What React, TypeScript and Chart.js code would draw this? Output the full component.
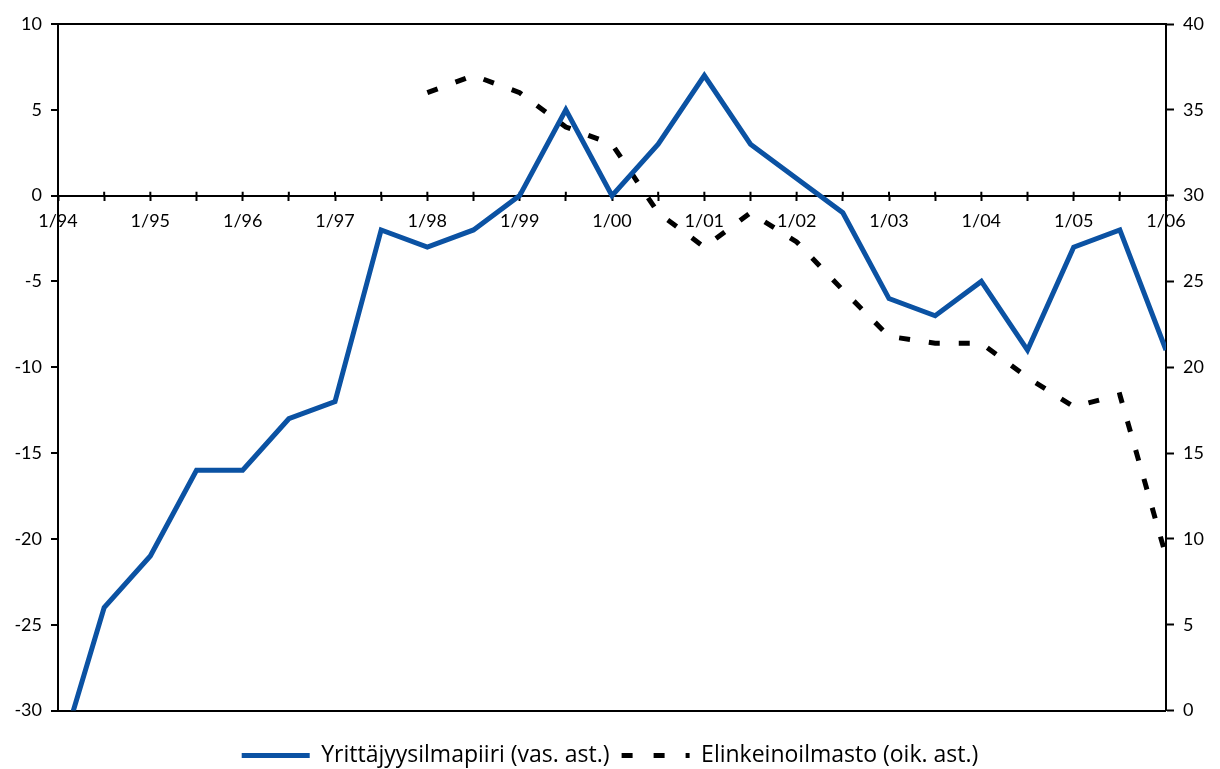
import React, { useEffect, useRef } from 'react';
import { Chart, registerables } from 'chart.js';

Chart.register(...registerables);

const categories = [
  '1/94', '7/94', '1/95', '7/95', '1/96', '7/96', '1/97', '7/97', '1/98', '7/98',
  '1/99', '7/99', '1/00', '7/00', '1/01', '7/01', '1/02', '7/02', '1/03', '7/03',
  '1/04', '7/04', '1/05', '7/05', '1/06',
];

const yrittajyysilmapiiri = [
  -33, -24, -21, -16, -16, -13, -12, -2, -3, -2,
  0, 5, 0, 3, 7, 3, 1, -1, -6, -7,
  -5, -9, -3, -2, -9,
];

const elinkeinoilmasto: (number | null)[] = [
  null, null, null, null, null, null, null, null, 36, 37,
  36, 34, 33, 29, 27, 29, 27.3, 24.5, 21.8, 21.4,
  21.4, 19.4, 17.7, 18.4, 9,
];

const leftMin = -30;
const leftMax = 10;
const rightMin = 0;
const rightMax = 40;
const tickStep = 5;

const seriesLabels = ['Yrittäjyysilmapiiri (vas. ast.)', 'Elinkeinoilmasto (oik. ast.)'];

const BLUE = '#0B52A3';
const LINE_DASH = [11, 19];
const LEGEND_DASH = [11, 21];
const TICK_FONT = { family: 'Lato, "Open Sans", sans-serif', size: 18 };
const LEGEND_FONT = { family: '"Open Sans", sans-serif', size: 23 };

const crossTicks = {
  id: 'crossTicks',
  beforeDatasetsDraw(chart: any) {
    const xs = chart.scales.x;
    const ys = chart.scales.y;
    const y0 = ys.getPixelForValue(0);
    const ctx = chart.ctx;
    ctx.save();
    ctx.strokeStyle = '#000';
    ctx.lineWidth = 2;
    ctx.beginPath();
    xs.ticks.forEach((_t: any, i: number) => {
      const px = xs.getPixelForTick(i);
      ctx.moveTo(px, y0 - 4);
      ctx.lineTo(px, y0);
    });
    ctx.stroke();
    ctx.restore();
  },
};

export default function App() {
  const canvasRef = useRef<HTMLCanvasElement | null>(null);

  useEffect(() => {
    if (!canvasRef.current) return;
    const chart = new Chart(canvasRef.current, {
      type: 'line',
      data: {
        labels: categories,
        datasets: [
          {
            label: seriesLabels[0],
            data: yrittajyysilmapiiri,
            yAxisID: 'y',
            borderColor: BLUE,
            backgroundColor: BLUE,
            borderWidth: 5,
            pointRadius: 0,
            pointHoverRadius: 0,
            pointStyle: 'line',
            tension: 0,
            borderJoinStyle: 'miter',
            borderCapStyle: 'butt',
            clip: { left: 0, top: 10, right: 0, bottom: 0 },
          },
          {
            label: seriesLabels[1],
            data: elinkeinoilmasto,
            yAxisID: 'y1',
            borderColor: '#000',
            backgroundColor: '#000',
            borderWidth: 5,
            borderDash: LINE_DASH,
            pointRadius: 0,
            pointHoverRadius: 0,
            pointStyle: 'line',
            tension: 0,
            borderJoinStyle: 'miter',
            borderCapStyle: 'butt',
            clip: { left: 0, top: 10, right: 0, bottom: 0 },
          },
        ],
      },
      options: {
        animation: false,
        responsive: true,
        maintainAspectRatio: false,
        layout: { padding: { top: 24, left: 0, right: 0, bottom: 0 } },
        plugins: {
          tooltip: { enabled: false },
          legend: {
            position: 'bottom',
            title: { display: true, text: '', font: { size: 10 }, padding: { top: 9.5, bottom: 0 } },
            labels: {
              usePointStyle: true,
              pointStyleWidth: 68,
              color: '#000',
              font: LEGEND_FONT,
              padding: 12,
              generateLabels: (c: any) => {
                const items = (Chart.defaults as any).plugins.legend.labels.generateLabels(c);
                return items.map((it: any) => {
                  const ds: any = c.data.datasets[it.datasetIndex];
                  const dashed = !!ds.borderDash;
                  return {
                    ...it,
                    pointStyle: 'line',
                    strokeStyle: ds.borderColor,
                    fillStyle: ds.borderColor,
                    lineWidth: 5,
                    lineCap: 'butt',
                    lineDash: dashed ? LEGEND_DASH : [],
                    lineDashOffset: 0,
                  };
                });
              },
            },
          },
        },
        scales: {
          x: {
            type: 'category',
            position: { y: 0 } as any,
            offset: false,
            grid: {
              display: true,
              drawOnChartArea: false,
              drawTicks: true,
              tickLength: 4,
              tickColor: '#000',
              tickWidth: 2,
              color: '#000',
            },
            border: { display: true, color: '#000', width: 2 },
            ticks: {
              autoSkip: false,
              maxRotation: 0,
              minRotation: 0,
              padding: 11,
              color: '#000',
              font: TICK_FONT,
              callback: (_v: any, i: number) => (categories[i].startsWith('1/') ? categories[i] : ''),
            },
          },
          y: {
            position: 'left',
            min: leftMin,
            max: leftMax,
            ticks: { stepSize: tickStep, color: '#000', font: TICK_FONT, padding: 9 },
            grid: {
              drawOnChartArea: true,
              color: (ctx: any) =>
                ctx.tick && (ctx.tick.value === leftMin || ctx.tick.value === leftMax) ? '#000' : 'rgba(0,0,0,0)',
              lineWidth: 2,
              tickColor: '#000',
              tickWidth: 2,
              tickLength: 7,
            },
            border: { display: true, color: '#000', width: 2 },
            afterFit: (s: any) => {
              s.width = 58;
            },
          },
          y1: {
            position: 'right',
            min: rightMin,
            max: rightMax,
            ticks: { stepSize: tickStep, color: '#000', font: TICK_FONT, padding: 9 },
            grid: {
              drawOnChartArea: false,
              tickColor: '#000',
              tickWidth: 2,
              tickLength: 8,
            },
            border: { display: true, color: '#000', width: 2 },
            afterFit: (s: any) => {
              s.width = 54;
            },
          },
        },
      },
      plugins: [crossTicks],
    } as any);
    return () => chart.destroy();
  }, []);

  return (
    <div style={{ position: 'fixed', left: 0, top: 0, width: 1220, height: 777, background: '#fff' }}>
      <canvas ref={canvasRef} />
    </div>
  );
}
